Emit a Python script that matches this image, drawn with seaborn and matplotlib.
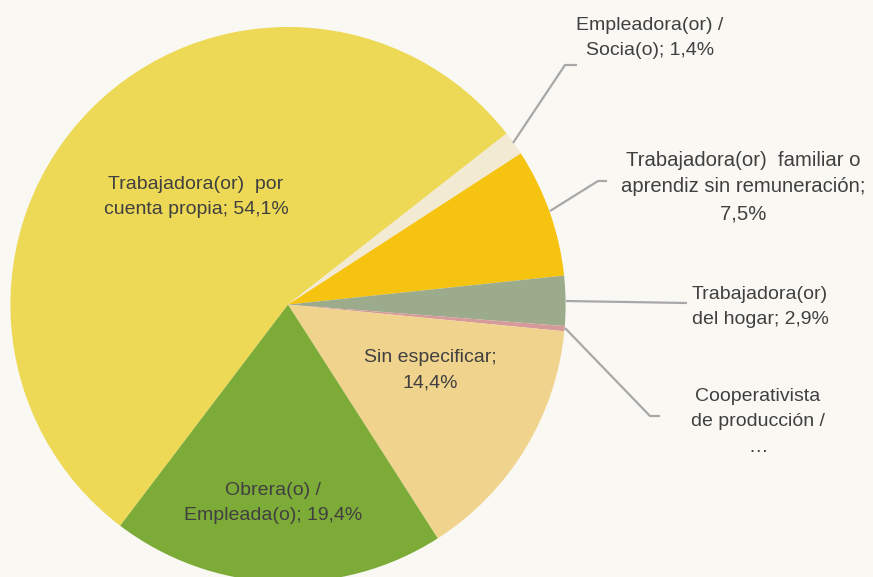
import numpy as np
import matplotlib
matplotlib.use("Agg")
import matplotlib.pyplot as plt
import seaborn as sns

# slice data, in drawing order (clockwise)
categories = [
    "Trabajadora(or) por cuenta propia",
    "Empleadora(or) / Socia(o)",
    "Trabajadora(or) familiar o aprendiz sin remuneración",
    "Trabajadora(or) del hogar",
    "Cooperativista de producción / …",
    "Sin especificar",
    "Obrera(o) / Empleada(o)",
]
shares = [54.1, 1.4, 7.5, 2.9, 0.3, 14.4, 19.4]
labels = [
    "Trabajadora(or)  por\ncuenta propia; 54,1%",
    "Empleadora(or) /\nSocia(o); 1,4%",
    "Trabajadora(or)  familiar o\naprendiz sin remuneración;\n7,5%",
    "Trabajadora(or)\ndel hogar; 2,9%",
    "Cooperativista\nde producción /\n…",
    "Sin especificar;\n14,4%",
    "Obrera(o) /\nEmpleada(o); 19,4%",
]
colors = ["#EDD955", "#F3EAD3", "#F5C310", "#9BAB8B", "#D79A9A", "#F0D38D", "#7DAB37"]

BG = "#F9F8F3"
TXT = "#404040"
LINE = "#A8A8A8"

sns.set_style("white")
plt.rcParams["font.family"] = ["Liberation Sans", "DejaVu Sans"]

# pixel layout of the reference
CX, CY, R = 288, 304.6, 277.6
W, H = 873, 577


def px(x, y):
    return ((x - CX) / R, (CY - y) / R)


fig = plt.figure(figsize=(W / 100, H / 100), dpi=100, facecolor=BG)
ax = fig.add_axes([0, 0, 1, 1])
ax.set_facecolor(BG)

ax.pie(shares, colors=colors, startangle=232.8, counterclock=False,
       radius=1, center=(0, 0), wedgeprops=dict(linewidth=0))

ax.set_xlim(px(0, 0)[0], px(W, 0)[0])
ax.set_ylim(px(0, H)[1], px(0, 0)[1])
ax.set_aspect("auto")
ax.axis("off")

fs = 14
# label placements (pixel centre, alignment, font size, line spacing)
spots = [
    (196, 197, "center", fs, 1.62),
    (650, 38, "center", fs, 1.62),
    (743, 187, "center", 14.6, 1.52),
    (692, 307, "left", fs, 1.62),
    (758, 422, "center", fs, 1.62),
    (430, 370, "center", fs, 1.62),
    (273, 503, "center", fs, 1.62),
]
for lab, (x, y, ha, size, ls) in zip(labels, spots):
    ax.text(*px(x, y), lab, ha=ha, va="center", color=TXT, fontsize=size,
            linespacing=ls)

# leader lines
leaders = [
    [(513, 143), (565, 65), (577, 65)],
    [(550, 211), (598, 181), (607, 181)],
    [(566, 301), (687, 303)],
    [(565, 328), (650, 416), (660, 416)],
]
for pts in leaders:
    xy = np.array([px(*p) for p in pts])
    ax.plot(xy[:, 0], xy[:, 1], color=LINE, lw=1.6, solid_capstyle="butt")

fig.savefig("out.png", dpi=100, facecolor=BG)
